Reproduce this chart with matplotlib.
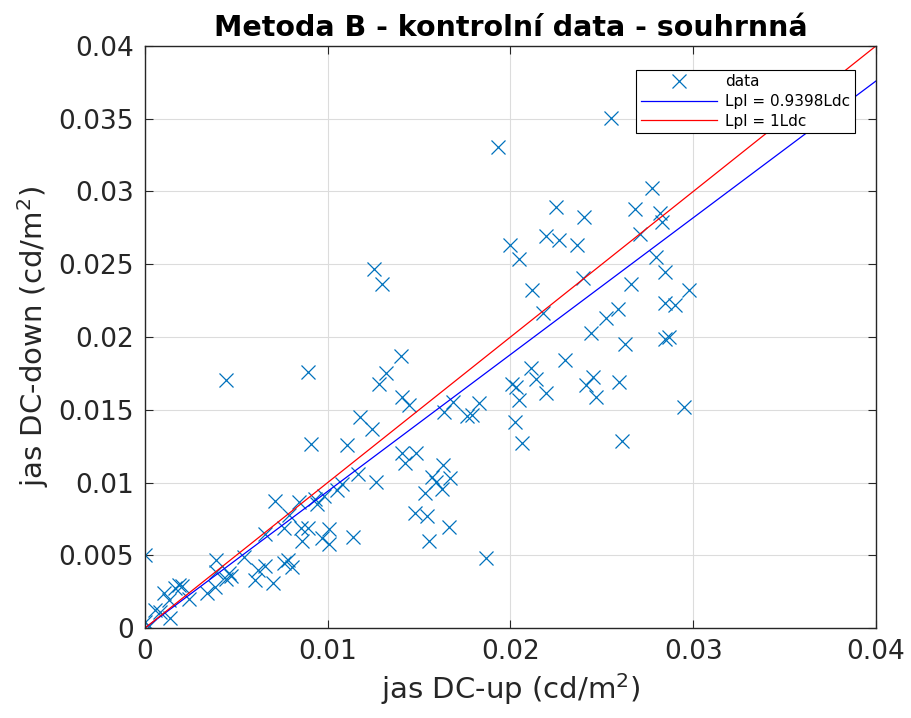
import matplotlib
matplotlib.use("Agg")
import matplotlib.pyplot as plt
import numpy as np

# data (values in cd/m^2 * 1e-3)
x_up = [0.00, 0.00, 0.20, 0.55, 0.80, 1.04, 1.32, 1.35, 1.64, 1.86, 2.00, 2.43,
        3.41, 3.84, 3.90, 3.90, 4.45, 4.57, 4.70, 4.44, 5.40, 6.00, 6.16, 6.58,
        6.56, 7.00, 7.12, 7.60, 7.60, 7.80, 8.07, 7.90, 8.40, 8.55, 8.60, 8.90,
        8.93, 9.10, 9.30, 9.40, 9.68, 9.77, 10.08, 10.08, 10.50, 10.80, 11.08,
        11.36, 11.65, 11.78, 12.42, 12.55, 12.64, 12.80, 12.99, 13.20, 14.00,
        14.06, 14.06, 14.25, 14.47, 14.80, 14.83, 15.34, 15.43, 15.56, 15.71,
        15.92, 16.25, 16.33, 16.35, 16.66, 16.68, 16.85, 17.60, 17.89, 18.26,
        18.66, 19.30, 19.98, 20.09, 20.30, 20.27, 20.44, 20.49, 20.64, 21.13,
        21.19, 21.40, 21.77, 21.95, 21.95, 22.47, 22.68, 22.96, 23.63, 23.96,
        24.02, 24.15, 24.42, 24.50, 24.69, 25.21, 25.48, 25.88, 25.94, 26.11,
        26.25, 26.60, 26.80, 27.11, 27.76, 27.97, 28.16, 28.30, 28.44, 28.44,
        28.44, 28.67, 28.99, 29.48, 29.77]
y_down = [5.05, 0.40, 0.15, 1.24, 1.12, 2.38, 1.90, 0.67, 2.75, 2.96, 2.88, 1.97,
          2.43, 2.84, 4.65, 3.87, 3.35, 3.76, 3.60, 17.04, 4.90, 3.30, 4.00, 4.26,
          6.44, 3.10, 8.73, 6.85, 4.45, 4.67, 4.17, 7.80, 8.68, 6.90, 6.00, 6.85,
          17.62, 12.65, 8.84, 8.50, 6.16, 9.07, 6.78, 5.77, 9.50, 9.90, 12.58,
          6.23, 10.58, 14.52, 13.68, 24.67, 10.06, 16.77, 23.64, 17.55, 18.70,
          15.90, 12.00, 11.32, 15.33, 7.88, 12.00, 9.30, 7.70, 6.00, 10.40,
          10.06, 9.53, 11.20, 14.87, 6.96, 10.29, 15.56, 14.57, 14.64, 15.44,
          4.84, 33.04, 26.32, 16.77, 16.59, 14.18, 25.36, 15.67, 12.70, 17.85,
          23.23, 17.10, 21.63, 26.94, 16.13, 28.91, 26.67, 18.42, 26.32, 24.08,
          28.27, 16.70, 20.25, 17.23, 15.90, 21.28, 35.03, 21.90, 16.94, 12.87,
          19.52, 23.62, 28.80, 27.08, 30.22, 25.52, 28.50, 27.93, 24.49, 22.31,
          19.84, 19.98, 22.20, 15.21, 23.23]
slope_fit = 0.9398
slope_ref = 1.0
line_x = [0.0, 0.04]
xticks = [0, 0.01, 0.02, 0.03, 0.04]
yticks = [0, 0.005, 0.01, 0.015, 0.02, 0.025, 0.03, 0.035, 0.04]

x = np.array(x_up) * 1e-3
y = np.array(y_down) * 1e-3
lx = np.array(line_x)

plt.rcParams['font.family'] = ['DejaVu Sans']
fig = plt.figure(figsize=(9.12, 7.18), dpi=100)
ax = fig.add_axes([0.159, 0.1253, 0.8015, 0.8107])

ax.plot(x, y, linestyle='none', marker='x', color='#0072BD', markersize=9.5,
        markeredgewidth=0.9, label='data')
ax.plot(lx, slope_fit * lx, color='blue', linewidth=0.9, label='Lpl = 0.9398Ldc')
ax.plot(lx, slope_ref * lx, color='red', linewidth=0.9, label='Lpl = 1Ldc')

ax.set_xlim(0, 0.04)
ax.set_ylim(0, 0.04)
ax.set_xticks(xticks)
ax.set_yticks(yticks)
ax.set_xticklabels(['0', '0.01', '0.02', '0.03', '0.04'])
ax.set_yticklabels(['0', '0.005', '0.01', '0.015', '0.02', '0.025', '0.03', '0.035', '0.04'])
ax.grid(True, color='#dcdcdc', linewidth=0.8)
ax.set_axisbelow(True)
ax.tick_params(direction='in', length=6, width=0.8, colors='#262626', labelsize=19,
               top=True, right=True, pad=8)
for s in ax.spines.values():
    s.set_color('#262626')
    s.set_linewidth(1.0)

ax.set_title('Metoda B - kontrolní data - souhrnná', fontsize=20.5, fontweight='bold', pad=7)
ax.set_xlabel('jas DC-up (cd/m$^2$)', fontsize=21, color='#262626', labelpad=4)
ax.set_ylabel('jas DC-down (cd/m$^2$)', fontsize=21, color='#262626', labelpad=5)

leg = ax.legend(loc='upper right', bbox_to_anchor=(0.971, 0.959), fontsize=11,
                fancybox=False, framealpha=1, edgecolor='black', borderpad=0.3,
                labelspacing=0.3, handlelength=5, handletextpad=0.5, borderaxespad=0)
leg.get_frame().set_linewidth(0.8)

fig.savefig('out.png', dpi=100)
